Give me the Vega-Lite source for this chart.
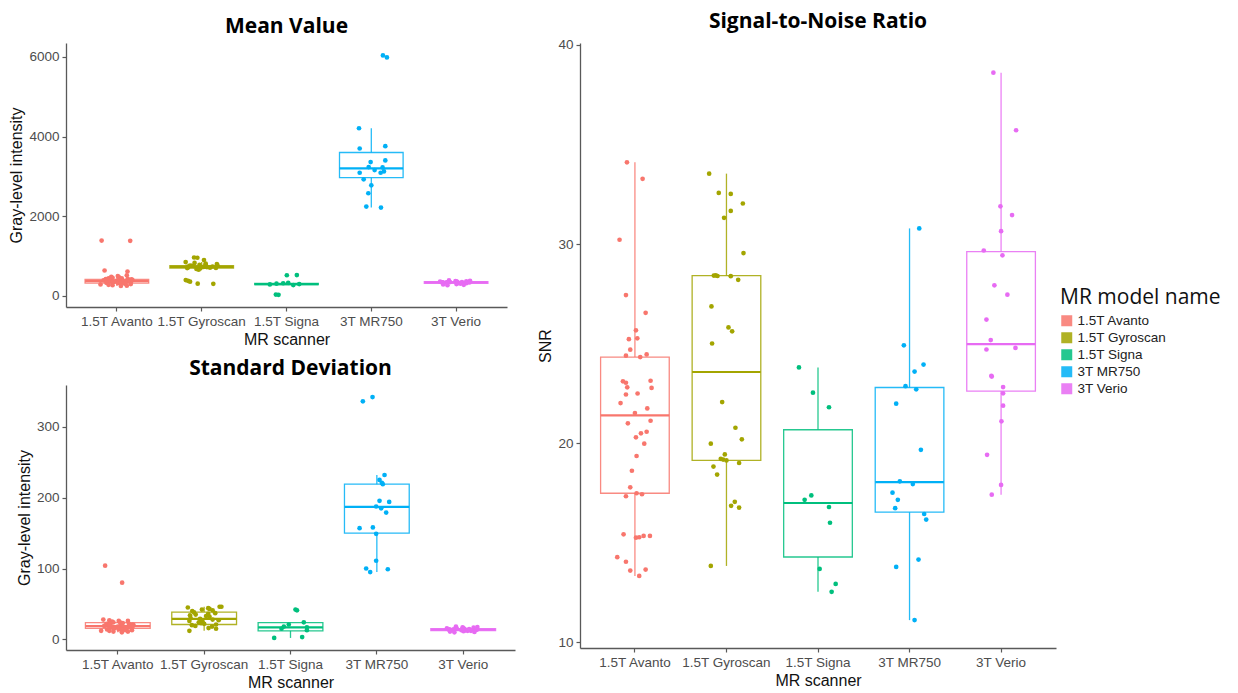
{
 "$schema": "https://vega.github.io/schema/vega-lite/v6.json",
 "padding": {"left": 8, "top": 10, "right": 5, "bottom": 5},
 "background": "white",
 "config": {
   "view": {"stroke": null},
   "font": "Liberation Sans",
   "axis": {"grid": false, "domainColor": "#595959", "domainWidth": 1.3, "tickColor": "#595959", "tickWidth": 1.2, "tickSize": 4, "labelFont": "Liberation Sans", "labelFontSize": 13.5, "labelColor": "#4d4d4d", "titleFont": "Liberation Sans", "titleFontSize": 16, "titleFontWeight": "normal", "titleColor": "#111111", "labelPadding": 3, "titlePadding": 4},
   "axisX": {"labelAngle": 0},
   "axisY": {"format": "d"},
   "title": {"font": "Open Sans", "fontSize": 21, "fontWeight": "bold", "color": "#000000", "anchor": "middle", "frame": "group", "offset": 6},
   "legend": {"orient": "none", "legendX": 994, "legendY": 244, "titleFont": "Open Sans", "titleFontSize": 21, "titleFontWeight": "normal", "titleColor": "#111111", "labelFont": "Liberation Sans", "labelFontSize": 13.5, "labelColor": "#222222", "symbolType": "square", "symbolSize": 90, "rowPadding": 1, "titlePadding": 6}
 },
 "datasets": {
  "meanBox": [
   {"scanner": "1.5T Avanto", "lo": 250, "q1": 325, "med": 374, "q3": 415, "hi": 520},
   {"scanner": "1.5T Gyroscan", "lo": 660, "q1": 700, "med": 730, "q3": 760, "hi": 850},
   {"scanner": "1.5T Signa", "lo": 275, "q1": 285, "med": 300, "q3": 318, "hi": 330},
   {"scanner": "3T MR750", "lo": 2219, "q1": 2968, "med": 3200, "q3": 3599, "hi": 4207},
   {"scanner": "3T Verio", "lo": 270, "q1": 315, "med": 341, "q3": 362, "hi": 390}
  ],
  "sdBox": [
   {"scanner": "1.5T Avanto", "lo": 10, "q1": 15.5, "med": 18.8, "q3": 23.5, "hi": 28},
   {"scanner": "1.5T Gyroscan", "lo": 12, "q1": 21, "med": 29, "q3": 38.5, "hi": 46},
   {"scanner": "1.5T Signa", "lo": 2, "q1": 12, "med": 17, "q3": 23.5, "hi": 24},
   {"scanner": "3T MR750", "lo": 95, "q1": 150, "med": 187, "q3": 219, "hi": 232},
   {"scanner": "3T Verio", "lo": 10, "q1": 12.3, "med": 13.8, "q3": 15.3, "hi": 18}
  ],
  "snrBox": [
   {"scanner": "1.5T Avanto", "lo": 13.34, "q1": 17.49, "med": 21.4, "q3": 24.33, "hi": 34.11},
   {"scanner": "1.5T Gyroscan", "lo": 13.84, "q1": 19.14, "med": 23.58, "q3": 28.42, "hi": 33.54},
   {"scanner": "1.5T Signa", "lo": 12.54, "q1": 14.29, "med": 17.0, "q3": 20.68, "hi": 23.81},
   {"scanner": "3T MR750", "lo": 11.12, "q1": 16.54, "med": 18.05, "q3": 22.8, "hi": 30.79},
   {"scanner": "3T Verio", "lo": 17.42, "q1": 22.62, "med": 24.98, "q3": 29.62, "hi": 38.61}
  ],
  "mean": [
   {"scanner": "1.5T Avanto", "value": 1389, "jitter": -0.18},
   {"scanner": "1.5T Avanto", "value": 1385, "jitter": 0.157},
   {"scanner": "1.5T Avanto", "value": 640, "jitter": -0.145},
   {"scanner": "1.5T Avanto", "value": 615, "jitter": 0.125},
   {"scanner": "1.5T Avanto", "value": 520, "jitter": 0.117},
   {"scanner": "1.5T Avanto", "value": 500, "jitter": 0.011},
   {"scanner": "1.5T Avanto", "value": 480, "jitter": -0.066},
   {"scanner": "1.5T Avanto", "value": 470, "jitter": 0.026},
   {"scanner": "1.5T Avanto", "value": 455, "jitter": -0.051},
   {"scanner": "1.5T Avanto", "value": 445, "jitter": -0.098},
   {"scanner": "1.5T Avanto", "value": 440, "jitter": 0.058},
   {"scanner": "1.5T Avanto", "value": 430, "jitter": 0.128},
   {"scanner": "1.5T Avanto", "value": 425, "jitter": -0.131},
   {"scanner": "1.5T Avanto", "value": 420, "jitter": -0.098},
   {"scanner": "1.5T Avanto", "value": 415, "jitter": 0.171},
   {"scanner": "1.5T Avanto", "value": 410, "jitter": -0.084},
   {"scanner": "1.5T Avanto", "value": 405, "jitter": 0.182},
   {"scanner": "1.5T Avanto", "value": 400, "jitter": -0.098},
   {"scanner": "1.5T Avanto", "value": 395, "jitter": 0.029},
   {"scanner": "1.5T Avanto", "value": 390, "jitter": -0.157},
   {"scanner": "1.5T Avanto", "value": 385, "jitter": 0.135},
   {"scanner": "1.5T Avanto", "value": 380, "jitter": 0.0},
   {"scanner": "1.5T Avanto", "value": 378, "jitter": 0.171},
   {"scanner": "1.5T Avanto", "value": 376, "jitter": -0.077},
   {"scanner": "1.5T Avanto", "value": 374, "jitter": 0.066},
   {"scanner": "1.5T Avanto", "value": 372, "jitter": 0.128},
   {"scanner": "1.5T Avanto", "value": 370, "jitter": 0.011},
   {"scanner": "1.5T Avanto", "value": 365, "jitter": 0.102},
   {"scanner": "1.5T Avanto", "value": 360, "jitter": 0.018},
   {"scanner": "1.5T Avanto", "value": 355, "jitter": -0.033},
   {"scanner": "1.5T Avanto", "value": 350, "jitter": -0.051},
   {"scanner": "1.5T Avanto", "value": 345, "jitter": -0.098},
   {"scanner": "1.5T Avanto", "value": 340, "jitter": 0.018},
   {"scanner": "1.5T Avanto", "value": 335, "jitter": 0.077},
   {"scanner": "1.5T Avanto", "value": 330, "jitter": -0.124},
   {"scanner": "1.5T Avanto", "value": 325, "jitter": 0.011},
   {"scanner": "1.5T Avanto", "value": 320, "jitter": 0.047},
   {"scanner": "1.5T Avanto", "value": 310, "jitter": 0.095},
   {"scanner": "1.5T Avanto", "value": 300, "jitter": 0.164},
   {"scanner": "1.5T Avanto", "value": 290, "jitter": -0.193},
   {"scanner": "1.5T Avanto", "value": 280, "jitter": -0.098},
   {"scanner": "1.5T Avanto", "value": 270, "jitter": -0.051},
   {"scanner": "1.5T Avanto", "value": 260, "jitter": 0.117},
   {"scanner": "1.5T Avanto", "value": 250, "jitter": 0.047},
   {"scanner": "1.5T Gyroscan", "value": 965, "jitter": -0.09},
   {"scanner": "1.5T Gyroscan", "value": 960, "jitter": -0.051},
   {"scanner": "1.5T Gyroscan", "value": 900, "jitter": 0.027},
   {"scanner": "1.5T Gyroscan", "value": 850, "jitter": -0.189},
   {"scanner": "1.5T Gyroscan", "value": 830, "jitter": -0.084},
   {"scanner": "1.5T Gyroscan", "value": 810, "jitter": 0.047},
   {"scanner": "1.5T Gyroscan", "value": 800, "jitter": 0.179},
   {"scanner": "1.5T Gyroscan", "value": 790, "jitter": 0.047},
   {"scanner": "1.5T Gyroscan", "value": 780, "jitter": -0.026},
   {"scanner": "1.5T Gyroscan", "value": 770, "jitter": 0.186},
   {"scanner": "1.5T Gyroscan", "value": 760, "jitter": -0.138},
   {"scanner": "1.5T Gyroscan", "value": 755, "jitter": -0.117},
   {"scanner": "1.5T Gyroscan", "value": 750, "jitter": -0.098},
   {"scanner": "1.5T Gyroscan", "value": 745, "jitter": 0.047},
   {"scanner": "1.5T Gyroscan", "value": 740, "jitter": 0.128},
   {"scanner": "1.5T Gyroscan", "value": 735, "jitter": -0.164},
   {"scanner": "1.5T Gyroscan", "value": 730, "jitter": 0.022},
   {"scanner": "1.5T Gyroscan", "value": 725, "jitter": 0.062},
   {"scanner": "1.5T Gyroscan", "value": 720, "jitter": -0.157},
   {"scanner": "1.5T Gyroscan", "value": 715, "jitter": -0.047},
   {"scanner": "1.5T Gyroscan", "value": 710, "jitter": 0.098},
   {"scanner": "1.5T Gyroscan", "value": 705, "jitter": 0.168},
   {"scanner": "1.5T Gyroscan", "value": 700, "jitter": -0.171},
   {"scanner": "1.5T Gyroscan", "value": 690, "jitter": -0.018},
   {"scanner": "1.5T Gyroscan", "value": 680, "jitter": -0.062},
   {"scanner": "1.5T Gyroscan", "value": 660, "jitter": -0.036},
   {"scanner": "1.5T Gyroscan", "value": 400, "jitter": -0.188},
   {"scanner": "1.5T Gyroscan", "value": 380, "jitter": -0.161},
   {"scanner": "1.5T Gyroscan", "value": 360, "jitter": -0.137},
   {"scanner": "1.5T Gyroscan", "value": 310, "jitter": -0.047},
   {"scanner": "1.5T Gyroscan", "value": 305, "jitter": 0.137},
   {"scanner": "1.5T Signa", "value": 525, "jitter": 0.122},
   {"scanner": "1.5T Signa", "value": 520, "jitter": 0.004},
   {"scanner": "1.5T Signa", "value": 330, "jitter": 0.02},
   {"scanner": "1.5T Signa", "value": 320, "jitter": -0.039},
   {"scanner": "1.5T Signa", "value": 310, "jitter": -0.118},
   {"scanner": "1.5T Signa", "value": 300, "jitter": 0.15},
   {"scanner": "1.5T Signa", "value": 290, "jitter": -0.196},
   {"scanner": "1.5T Signa", "value": 275, "jitter": 0.08},
   {"scanner": "1.5T Signa", "value": 35, "jitter": -0.125},
   {"scanner": "1.5T Signa", "value": 30, "jitter": -0.094},
   {"scanner": "3T MR750", "value": 6035, "jitter": 0.137},
   {"scanner": "3T MR750", "value": 5985, "jitter": 0.184},
   {"scanner": "3T MR750", "value": 4207, "jitter": -0.145},
   {"scanner": "3T MR750", "value": 3757, "jitter": 0.165},
   {"scanner": "3T MR750", "value": 3699, "jitter": -0.137},
   {"scanner": "3T MR750", "value": 3400, "jitter": 0.165},
   {"scanner": "3T MR750", "value": 3358, "jitter": -0.008},
   {"scanner": "3T MR750", "value": 3234, "jitter": -0.031},
   {"scanner": "3T MR750", "value": 3225, "jitter": 0.133},
   {"scanner": "3T MR750", "value": 3159, "jitter": 0.039},
   {"scanner": "3T MR750", "value": 3125, "jitter": 0.149},
   {"scanner": "3T MR750", "value": 3092, "jitter": 0.11},
   {"scanner": "3T MR750", "value": 3092, "jitter": -0.137},
   {"scanner": "3T MR750", "value": 2926, "jitter": -0.09},
   {"scanner": "3T MR750", "value": 2776, "jitter": 0.0},
   {"scanner": "3T MR750", "value": 2577, "jitter": -0.035},
   {"scanner": "3T MR750", "value": 2244, "jitter": -0.059},
   {"scanner": "3T MR750", "value": 2219, "jitter": 0.114},
   {"scanner": "3T Verio", "value": 390, "jitter": -0.084},
   {"scanner": "3T Verio", "value": 380, "jitter": 0.164},
   {"scanner": "3T Verio", "value": 375, "jitter": -0.007},
   {"scanner": "3T Verio", "value": 370, "jitter": 0.12},
   {"scanner": "3T Verio", "value": 365, "jitter": 0.0},
   {"scanner": "3T Verio", "value": 360, "jitter": -0.189},
   {"scanner": "3T Verio", "value": 355, "jitter": 0.015},
   {"scanner": "3T Verio", "value": 350, "jitter": -0.073},
   {"scanner": "3T Verio", "value": 348, "jitter": 0.069},
   {"scanner": "3T Verio", "value": 345, "jitter": -0.16},
   {"scanner": "3T Verio", "value": 342, "jitter": -0.113},
   {"scanner": "3T Verio", "value": 340, "jitter": -0.16},
   {"scanner": "3T Verio", "value": 338, "jitter": 0.157},
   {"scanner": "3T Verio", "value": 335, "jitter": -0.106},
   {"scanner": "3T Verio", "value": 330, "jitter": -0.102},
   {"scanner": "3T Verio", "value": 325, "jitter": 0.022},
   {"scanner": "3T Verio", "value": 320, "jitter": 0.122},
   {"scanner": "3T Verio", "value": 310, "jitter": 0.052},
   {"scanner": "3T Verio", "value": 300, "jitter": 0.004},
   {"scanner": "3T Verio", "value": 290, "jitter": -0.153},
   {"scanner": "3T Verio", "value": 280, "jitter": 0.09},
   {"scanner": "3T Verio", "value": 270, "jitter": -0.102}
  ],
  "sd": [
   {"scanner": "1.5T Avanto", "value": 104, "jitter": -0.147},
   {"scanner": "1.5T Avanto", "value": 80, "jitter": 0.05},
   {"scanner": "1.5T Avanto", "value": 28, "jitter": -0.168},
   {"scanner": "1.5T Avanto", "value": 27, "jitter": -0.098},
   {"scanner": "1.5T Avanto", "value": 26, "jitter": 0.117},
   {"scanner": "1.5T Avanto", "value": 26, "jitter": 0.011},
   {"scanner": "1.5T Avanto", "value": 25, "jitter": -0.066},
   {"scanner": "1.5T Avanto", "value": 24, "jitter": 0.026},
   {"scanner": "1.5T Avanto", "value": 24, "jitter": -0.051},
   {"scanner": "1.5T Avanto", "value": 23, "jitter": -0.098},
   {"scanner": "1.5T Avanto", "value": 23, "jitter": 0.058},
   {"scanner": "1.5T Avanto", "value": 22, "jitter": 0.128},
   {"scanner": "1.5T Avanto", "value": 22, "jitter": -0.131},
   {"scanner": "1.5T Avanto", "value": 21, "jitter": -0.098},
   {"scanner": "1.5T Avanto", "value": 21, "jitter": 0.171},
   {"scanner": "1.5T Avanto", "value": 20, "jitter": -0.084},
   {"scanner": "1.5T Avanto", "value": 20, "jitter": 0.182},
   {"scanner": "1.5T Avanto", "value": 20, "jitter": -0.098},
   {"scanner": "1.5T Avanto", "value": 19, "jitter": 0.029},
   {"scanner": "1.5T Avanto", "value": 19, "jitter": -0.157},
   {"scanner": "1.5T Avanto", "value": 19, "jitter": 0.135},
   {"scanner": "1.5T Avanto", "value": 18, "jitter": 0.0},
   {"scanner": "1.5T Avanto", "value": 18, "jitter": 0.171},
   {"scanner": "1.5T Avanto", "value": 18, "jitter": -0.077},
   {"scanner": "1.5T Avanto", "value": 17, "jitter": 0.066},
   {"scanner": "1.5T Avanto", "value": 17, "jitter": 0.128},
   {"scanner": "1.5T Avanto", "value": 17, "jitter": 0.011},
   {"scanner": "1.5T Avanto", "value": 16, "jitter": 0.102},
   {"scanner": "1.5T Avanto", "value": 16, "jitter": 0.018},
   {"scanner": "1.5T Avanto", "value": 16, "jitter": -0.033},
   {"scanner": "1.5T Avanto", "value": 15, "jitter": -0.051},
   {"scanner": "1.5T Avanto", "value": 15, "jitter": -0.098},
   {"scanner": "1.5T Avanto", "value": 15, "jitter": 0.018},
   {"scanner": "1.5T Avanto", "value": 14, "jitter": 0.077},
   {"scanner": "1.5T Avanto", "value": 14, "jitter": -0.124},
   {"scanner": "1.5T Avanto", "value": 14, "jitter": 0.011},
   {"scanner": "1.5T Avanto", "value": 13, "jitter": 0.047},
   {"scanner": "1.5T Avanto", "value": 13, "jitter": 0.095},
   {"scanner": "1.5T Avanto", "value": 13, "jitter": 0.164},
   {"scanner": "1.5T Avanto", "value": 12, "jitter": -0.193},
   {"scanner": "1.5T Avanto", "value": 12, "jitter": -0.098},
   {"scanner": "1.5T Avanto", "value": 11, "jitter": -0.051},
   {"scanner": "1.5T Avanto", "value": 11, "jitter": 0.117},
   {"scanner": "1.5T Avanto", "value": 10, "jitter": 0.047},
   {"scanner": "1.5T Gyroscan", "value": 46, "jitter": 0.179},
   {"scanner": "1.5T Gyroscan", "value": 46, "jitter": 0.2},
   {"scanner": "1.5T Gyroscan", "value": 45, "jitter": -0.189},
   {"scanner": "1.5T Gyroscan", "value": 44, "jitter": 0.047},
   {"scanner": "1.5T Gyroscan", "value": 43, "jitter": 0.062},
   {"scanner": "1.5T Gyroscan", "value": 42, "jitter": -0.026},
   {"scanner": "1.5T Gyroscan", "value": 41, "jitter": 0.098},
   {"scanner": "1.5T Gyroscan", "value": 40, "jitter": -0.138},
   {"scanner": "1.5T Gyroscan", "value": 38, "jitter": -0.117},
   {"scanner": "1.5T Gyroscan", "value": 37, "jitter": 0.128},
   {"scanner": "1.5T Gyroscan", "value": 36, "jitter": 0.047},
   {"scanner": "1.5T Gyroscan", "value": 35, "jitter": -0.098},
   {"scanner": "1.5T Gyroscan", "value": 34, "jitter": -0.164},
   {"scanner": "1.5T Gyroscan", "value": 33, "jitter": 0.022},
   {"scanner": "1.5T Gyroscan", "value": 32, "jitter": 0.062},
   {"scanner": "1.5T Gyroscan", "value": 30, "jitter": -0.157},
   {"scanner": "1.5T Gyroscan", "value": 29, "jitter": -0.047},
   {"scanner": "1.5T Gyroscan", "value": 28, "jitter": 0.098},
   {"scanner": "1.5T Gyroscan", "value": 27, "jitter": 0.168},
   {"scanner": "1.5T Gyroscan", "value": 26, "jitter": -0.171},
   {"scanner": "1.5T Gyroscan", "value": 25, "jitter": -0.018},
   {"scanner": "1.5T Gyroscan", "value": 24, "jitter": -0.062},
   {"scanner": "1.5T Gyroscan", "value": 23, "jitter": -0.036},
   {"scanner": "1.5T Gyroscan", "value": 22, "jitter": 0.0},
   {"scanner": "1.5T Gyroscan", "value": 21, "jitter": 0.138},
   {"scanner": "1.5T Gyroscan", "value": 20, "jitter": -0.142},
   {"scanner": "1.5T Gyroscan", "value": 19, "jitter": -0.102},
   {"scanner": "1.5T Gyroscan", "value": 18, "jitter": 0.091},
   {"scanner": "1.5T Gyroscan", "value": 16, "jitter": 0.051},
   {"scanner": "1.5T Gyroscan", "value": 15, "jitter": 0.138},
   {"scanner": "1.5T Gyroscan", "value": 12, "jitter": -0.171},
   {"scanner": "1.5T Signa", "value": 42, "jitter": 0.058},
   {"scanner": "1.5T Signa", "value": 41, "jitter": 0.075},
   {"scanner": "1.5T Signa", "value": 24, "jitter": 0.154},
   {"scanner": "1.5T Signa", "value": 21, "jitter": -0.02},
   {"scanner": "1.5T Signa", "value": 18, "jitter": -0.077},
   {"scanner": "1.5T Signa", "value": 17, "jitter": 0.19},
   {"scanner": "1.5T Signa", "value": 15, "jitter": -0.104},
   {"scanner": "1.5T Signa", "value": 13, "jitter": 0.19},
   {"scanner": "1.5T Signa", "value": 3.3, "jitter": 0.135},
   {"scanner": "1.5T Signa", "value": 2, "jitter": -0.189},
   {"scanner": "3T MR750", "value": 342, "jitter": -0.05},
   {"scanner": "3T MR750", "value": 336, "jitter": -0.162},
   {"scanner": "3T MR750", "value": 232, "jitter": 0.089},
   {"scanner": "3T MR750", "value": 225, "jitter": 0.031},
   {"scanner": "3T MR750", "value": 221, "jitter": 0.058},
   {"scanner": "3T MR750", "value": 219, "jitter": 0.069},
   {"scanner": "3T MR750", "value": 195.5, "jitter": 0.031},
   {"scanner": "3T MR750", "value": 194, "jitter": 0.143},
   {"scanner": "3T MR750", "value": 187.5, "jitter": -0.008},
   {"scanner": "3T MR750", "value": 185, "jitter": 0.05},
   {"scanner": "3T MR750", "value": 179, "jitter": 0.108},
   {"scanner": "3T MR750", "value": 157, "jitter": -0.2},
   {"scanner": "3T MR750", "value": 158, "jitter": -0.046},
   {"scanner": "3T MR750", "value": 149, "jitter": -0.008},
   {"scanner": "3T MR750", "value": 111, "jitter": -0.008},
   {"scanner": "3T MR750", "value": 100, "jitter": -0.124},
   {"scanner": "3T MR750", "value": 95, "jitter": -0.077},
   {"scanner": "3T MR750", "value": 99, "jitter": 0.127},
   {"scanner": "3T Verio", "value": 18, "jitter": -0.084},
   {"scanner": "3T Verio", "value": 17.5, "jitter": 0.164},
   {"scanner": "3T Verio", "value": 17, "jitter": -0.007},
   {"scanner": "3T Verio", "value": 16.5, "jitter": 0.12},
   {"scanner": "3T Verio", "value": 16, "jitter": 0.0},
   {"scanner": "3T Verio", "value": 15.5, "jitter": -0.189},
   {"scanner": "3T Verio", "value": 15, "jitter": 0.015},
   {"scanner": "3T Verio", "value": 15, "jitter": -0.073},
   {"scanner": "3T Verio", "value": 14.5, "jitter": 0.069},
   {"scanner": "3T Verio", "value": 14, "jitter": -0.16},
   {"scanner": "3T Verio", "value": 14, "jitter": -0.113},
   {"scanner": "3T Verio", "value": 13.5, "jitter": -0.16},
   {"scanner": "3T Verio", "value": 13.5, "jitter": 0.157},
   {"scanner": "3T Verio", "value": 13, "jitter": -0.106},
   {"scanner": "3T Verio", "value": 13, "jitter": -0.02},
   {"scanner": "3T Verio", "value": 12.5, "jitter": 0.022},
   {"scanner": "3T Verio", "value": 12, "jitter": 0.09},
   {"scanner": "3T Verio", "value": 12, "jitter": 0.052},
   {"scanner": "3T Verio", "value": 11.5, "jitter": 0.004},
   {"scanner": "3T Verio", "value": 11, "jitter": -0.153},
   {"scanner": "3T Verio", "value": 10.5, "jitter": 0.13},
   {"scanner": "3T Verio", "value": 10, "jitter": -0.102}
  ],
  "snr": [
   {"scanner": "1.5T Avanto", "value": 34.11, "jitter": -0.087},
   {"scanner": "1.5T Avanto", "value": 33.28, "jitter": 0.084},
   {"scanner": "1.5T Avanto", "value": 30.22, "jitter": -0.168},
   {"scanner": "1.5T Avanto", "value": 27.44, "jitter": -0.098},
   {"scanner": "1.5T Avanto", "value": 26.55, "jitter": 0.117},
   {"scanner": "1.5T Avanto", "value": 25.67, "jitter": 0.011},
   {"scanner": "1.5T Avanto", "value": 25.23, "jitter": -0.066},
   {"scanner": "1.5T Avanto", "value": 25.27, "jitter": 0.026},
   {"scanner": "1.5T Avanto", "value": 24.7, "jitter": -0.051},
   {"scanner": "1.5T Avanto", "value": 24.4, "jitter": -0.098},
   {"scanner": "1.5T Avanto", "value": 24.33, "jitter": 0.058},
   {"scanner": "1.5T Avanto", "value": 24.46, "jitter": 0.128},
   {"scanner": "1.5T Avanto", "value": 23.11, "jitter": -0.131},
   {"scanner": "1.5T Avanto", "value": 23.04, "jitter": -0.098},
   {"scanner": "1.5T Avanto", "value": 23.14, "jitter": 0.171},
   {"scanner": "1.5T Avanto", "value": 22.81, "jitter": -0.084},
   {"scanner": "1.5T Avanto", "value": 22.78, "jitter": 0.182},
   {"scanner": "1.5T Avanto", "value": 22.45, "jitter": -0.098},
   {"scanner": "1.5T Avanto", "value": 22.5, "jitter": 0.029},
   {"scanner": "1.5T Avanto", "value": 22.02, "jitter": -0.157},
   {"scanner": "1.5T Avanto", "value": 21.75, "jitter": 0.135},
   {"scanner": "1.5T Avanto", "value": 21.52, "jitter": 0.0},
   {"scanner": "1.5T Avanto", "value": 21.13, "jitter": 0.171},
   {"scanner": "1.5T Avanto", "value": 21.0, "jitter": -0.077},
   {"scanner": "1.5T Avanto", "value": 20.5, "jitter": 0.066},
   {"scanner": "1.5T Avanto", "value": 20.58, "jitter": 0.128},
   {"scanner": "1.5T Avanto", "value": 20.3, "jitter": 0.011},
   {"scanner": "1.5T Avanto", "value": 19.98, "jitter": 0.102},
   {"scanner": "1.5T Avanto", "value": 19.36, "jitter": 0.018},
   {"scanner": "1.5T Avanto", "value": 18.62, "jitter": -0.033},
   {"scanner": "1.5T Avanto", "value": 17.79, "jitter": -0.051},
   {"scanner": "1.5T Avanto", "value": 17.34, "jitter": -0.098},
   {"scanner": "1.5T Avanto", "value": 17.49, "jitter": 0.018},
   {"scanner": "1.5T Avanto", "value": 17.44, "jitter": 0.077},
   {"scanner": "1.5T Avanto", "value": 15.43, "jitter": -0.124},
   {"scanner": "1.5T Avanto", "value": 15.26, "jitter": 0.011},
   {"scanner": "1.5T Avanto", "value": 15.28, "jitter": 0.047},
   {"scanner": "1.5T Avanto", "value": 15.35, "jitter": 0.095},
   {"scanner": "1.5T Avanto", "value": 15.35, "jitter": 0.164},
   {"scanner": "1.5T Avanto", "value": 14.28, "jitter": -0.193},
   {"scanner": "1.5T Avanto", "value": 14.05, "jitter": -0.098},
   {"scanner": "1.5T Avanto", "value": 13.61, "jitter": -0.051},
   {"scanner": "1.5T Avanto", "value": 13.66, "jitter": 0.117},
   {"scanner": "1.5T Avanto", "value": 13.34, "jitter": 0.047},
   {"scanner": "1.5T Gyroscan", "value": 33.54, "jitter": -0.189},
   {"scanner": "1.5T Gyroscan", "value": 32.57, "jitter": -0.084},
   {"scanner": "1.5T Gyroscan", "value": 32.52, "jitter": 0.047},
   {"scanner": "1.5T Gyroscan", "value": 32.04, "jitter": 0.179},
   {"scanner": "1.5T Gyroscan", "value": 31.67, "jitter": 0.047},
   {"scanner": "1.5T Gyroscan", "value": 31.32, "jitter": -0.026},
   {"scanner": "1.5T Gyroscan", "value": 29.55, "jitter": 0.186},
   {"scanner": "1.5T Gyroscan", "value": 28.42, "jitter": -0.138},
   {"scanner": "1.5T Gyroscan", "value": 28.43, "jitter": -0.117},
   {"scanner": "1.5T Gyroscan", "value": 28.4, "jitter": -0.098},
   {"scanner": "1.5T Gyroscan", "value": 28.39, "jitter": 0.047},
   {"scanner": "1.5T Gyroscan", "value": 28.21, "jitter": 0.128},
   {"scanner": "1.5T Gyroscan", "value": 26.87, "jitter": -0.164},
   {"scanner": "1.5T Gyroscan", "value": 25.82, "jitter": 0.022},
   {"scanner": "1.5T Gyroscan", "value": 25.62, "jitter": 0.062},
   {"scanner": "1.5T Gyroscan", "value": 25.01, "jitter": -0.157},
   {"scanner": "1.5T Gyroscan", "value": 22.07, "jitter": -0.047},
   {"scanner": "1.5T Gyroscan", "value": 20.78, "jitter": 0.098},
   {"scanner": "1.5T Gyroscan", "value": 20.2, "jitter": 0.168},
   {"scanner": "1.5T Gyroscan", "value": 19.98, "jitter": -0.171},
   {"scanner": "1.5T Gyroscan", "value": 19.44, "jitter": -0.018},
   {"scanner": "1.5T Gyroscan", "value": 19.22, "jitter": -0.062},
   {"scanner": "1.5T Gyroscan", "value": 19.18, "jitter": -0.036},
   {"scanner": "1.5T Gyroscan", "value": 19.14, "jitter": 0.0},
   {"scanner": "1.5T Gyroscan", "value": 19.01, "jitter": 0.138},
   {"scanner": "1.5T Gyroscan", "value": 18.83, "jitter": -0.142},
   {"scanner": "1.5T Gyroscan", "value": 18.43, "jitter": -0.102},
   {"scanner": "1.5T Gyroscan", "value": 17.06, "jitter": 0.091},
   {"scanner": "1.5T Gyroscan", "value": 16.86, "jitter": 0.051},
   {"scanner": "1.5T Gyroscan", "value": 16.77, "jitter": 0.138},
   {"scanner": "1.5T Gyroscan", "value": 13.84, "jitter": -0.171},
   {"scanner": "1.5T Signa", "value": 23.81, "jitter": -0.208},
   {"scanner": "1.5T Signa", "value": 22.54, "jitter": -0.055},
   {"scanner": "1.5T Signa", "value": 21.81, "jitter": 0.12},
   {"scanner": "1.5T Signa", "value": 17.38, "jitter": -0.073},
   {"scanner": "1.5T Signa", "value": 17.16, "jitter": -0.146},
   {"scanner": "1.5T Signa", "value": 16.8, "jitter": 0.12},
   {"scanner": "1.5T Signa", "value": 16.01, "jitter": 0.131},
   {"scanner": "1.5T Signa", "value": 13.69, "jitter": 0.018},
   {"scanner": "1.5T Signa", "value": 12.94, "jitter": 0.193},
   {"scanner": "1.5T Signa", "value": 12.54, "jitter": 0.149},
   {"scanner": "3T MR750", "value": 30.79, "jitter": 0.106},
   {"scanner": "3T MR750", "value": 24.92, "jitter": -0.062},
   {"scanner": "3T MR750", "value": 23.95, "jitter": 0.153},
   {"scanner": "3T MR750", "value": 23.6, "jitter": 0.055},
   {"scanner": "3T MR750", "value": 22.87, "jitter": -0.044},
   {"scanner": "3T MR750", "value": 22.71, "jitter": 0.073},
   {"scanner": "3T MR750", "value": 21.99, "jitter": -0.146},
   {"scanner": "3T MR750", "value": 19.67, "jitter": 0.124},
   {"scanner": "3T MR750", "value": 18.09, "jitter": -0.106},
   {"scanner": "3T MR750", "value": 17.95, "jitter": 0.036},
   {"scanner": "3T MR750", "value": 17.52, "jitter": -0.186},
   {"scanner": "3T MR750", "value": 17.16, "jitter": -0.128},
   {"scanner": "3T MR750", "value": 16.74, "jitter": -0.157},
   {"scanner": "3T MR750", "value": 16.45, "jitter": 0.16},
   {"scanner": "3T MR750", "value": 16.17, "jitter": 0.182},
   {"scanner": "3T MR750", "value": 14.16, "jitter": 0.098},
   {"scanner": "3T MR750", "value": 13.79, "jitter": -0.146},
   {"scanner": "3T MR750", "value": 11.12, "jitter": 0.055},
   {"scanner": "3T Verio", "value": 38.61, "jitter": -0.084},
   {"scanner": "3T Verio", "value": 35.72, "jitter": 0.164},
   {"scanner": "3T Verio", "value": 31.9, "jitter": -0.007},
   {"scanner": "3T Verio", "value": 31.46, "jitter": 0.12},
   {"scanner": "3T Verio", "value": 30.65, "jitter": 0.0},
   {"scanner": "3T Verio", "value": 29.68, "jitter": -0.189},
   {"scanner": "3T Verio", "value": 29.44, "jitter": 0.015},
   {"scanner": "3T Verio", "value": 27.93, "jitter": -0.073},
   {"scanner": "3T Verio", "value": 27.46, "jitter": 0.069},
   {"scanner": "3T Verio", "value": 26.21, "jitter": -0.16},
   {"scanner": "3T Verio", "value": 25.18, "jitter": -0.113},
   {"scanner": "3T Verio", "value": 24.71, "jitter": -0.16},
   {"scanner": "3T Verio", "value": 24.79, "jitter": 0.157},
   {"scanner": "3T Verio", "value": 23.39, "jitter": -0.106},
   {"scanner": "3T Verio", "value": 23.35, "jitter": -0.102},
   {"scanner": "3T Verio", "value": 22.82, "jitter": 0.022},
   {"scanner": "3T Verio", "value": 22.51, "jitter": 0.022},
   {"scanner": "3T Verio", "value": 21.89, "jitter": 0.022},
   {"scanner": "3T Verio", "value": 21.1, "jitter": 0.004},
   {"scanner": "3T Verio", "value": 19.42, "jitter": -0.153},
   {"scanner": "3T Verio", "value": 17.91, "jitter": 0.0},
   {"scanner": "3T Verio", "value": 17.42, "jitter": -0.102}
  ]
 },
 "spacing": 22,
 "hconcat": [
  {
   "spacing": 10,
   "vconcat": [
    {
     "title": "Mean Value",
     "width": 441, "height": 264,
     "resolve": {"scale": {"xOffset": "independent"}},
     "encoding": {
      "x": {"field": "scanner", "type": "nominal", "title": "MR scanner", "scale": {"domain": ["1.5T Avanto", "1.5T Gyroscan", "1.5T Signa", "3T MR750", "3T Verio"], "paddingInner": 0.25, "paddingOuter": 0.225}},
      "color": {"field": "scanner", "type": "nominal", "title": "MR model name", "scale": {"domain": ["1.5T Avanto", "1.5T Gyroscan", "1.5T Signa", "3T MR750", "3T Verio"], "range": ["#F8766D", "#A3A500", "#00BF7D", "#00B0F6", "#E76BF3"]}}
     },
     "layer": [
      {"data": {"name": "meanBox"}, "mark": {"type": "rule", "strokeWidth": 1.3, "opacity": 0.85},
       "encoding": {"y": {"field": "lo", "type": "quantitative", "title": "Gray-level intensity", "scale": {"domain": [-276, 6346], "nice": false, "zero": false}, "axis": {"values": [0, 2000, 4000, 6000]}}, "y2": {"field": "q1"}}},
      {"data": {"name": "meanBox"}, "mark": {"type": "rule", "strokeWidth": 1.3, "opacity": 0.85},
       "encoding": {"y": {"field": "q3", "type": "quantitative", "title": "Gray-level intensity"}, "y2": {"field": "hi"}}},
      {"data": {"name": "meanBox"}, "mark": {"type": "bar", "filled": false, "strokeWidth": 1.3, "opacity": 0.85},
       "encoding": {"y": {"field": "q1", "type": "quantitative", "title": "Gray-level intensity"}, "y2": {"field": "q3"}}},
      {"data": {"name": "meanBox"}, "mark": {"type": "tick", "thickness": 2.2, "size": 63.6, "opacity": 1},
       "encoding": {"y": {"field": "med", "type": "quantitative", "title": "Gray-level intensity"}}},
      {"data": {"name": "mean"}, "mark": {"type": "circle", "size": 22, "opacity": 1},
       "encoding": {"y": {"field": "value", "type": "quantitative", "title": "Gray-level intensity"}, "xOffset": {"field": "jitter", "type": "quantitative", "scale": {"domain": [-0.375, 0.375]}}}}
     ]
    },
    {
     "title": "Standard Deviation",
     "width": 449, "height": 265,
     "resolve": {"scale": {"xOffset": "independent"}},
     "encoding": {
      "x": {"field": "scanner", "type": "nominal", "title": "MR scanner", "scale": {"domain": ["1.5T Avanto", "1.5T Gyroscan", "1.5T Signa", "3T MR750", "3T Verio"], "paddingInner": 0.25, "paddingOuter": 0.225}},
      "color": {"field": "scanner", "type": "nominal", "title": "MR model name", "scale": {"domain": ["1.5T Avanto", "1.5T Gyroscan", "1.5T Signa", "3T MR750", "3T Verio"], "range": ["#F8766D", "#A3A500", "#00BF7D", "#00B0F6", "#E76BF3"]}}
     },
     "layer": [
      {"data": {"name": "sdBox"}, "mark": {"type": "rule", "strokeWidth": 1.3, "opacity": 0.85},
       "encoding": {"y": {"field": "lo", "type": "quantitative", "title": "Gray-level intensity", "scale": {"domain": [-15, 359], "nice": false, "zero": false}, "axis": {"values": [0, 100, 200, 300]}}, "y2": {"field": "q1"}}},
      {"data": {"name": "sdBox"}, "mark": {"type": "rule", "strokeWidth": 1.3, "opacity": 0.85},
       "encoding": {"y": {"field": "q3", "type": "quantitative", "title": "Gray-level intensity"}, "y2": {"field": "hi"}}},
      {"data": {"name": "sdBox"}, "mark": {"type": "bar", "filled": false, "strokeWidth": 1.3, "opacity": 0.85},
       "encoding": {"y": {"field": "q1", "type": "quantitative", "title": "Gray-level intensity"}, "y2": {"field": "q3"}}},
      {"data": {"name": "sdBox"}, "mark": {"type": "tick", "thickness": 2.2, "size": 64.7, "opacity": 1},
       "encoding": {"y": {"field": "med", "type": "quantitative", "title": "Gray-level intensity"}}},
      {"data": {"name": "sd"}, "mark": {"type": "circle", "size": 22, "opacity": 1},
       "encoding": {"y": {"field": "value", "type": "quantitative", "title": "Gray-level intensity"}, "xOffset": {"field": "jitter", "type": "quantitative", "scale": {"domain": [-0.375, 0.375]}}}}
     ]
    }
   ]
  },
  {
   "title": "Signal-to-Noise Ratio",
   "width": 476, "height": 605,
   "resolve": {"scale": {"xOffset": "independent"}},
   "encoding": {
    "x": {"field": "scanner", "type": "nominal", "title": "MR scanner", "scale": {"domain": ["1.5T Avanto", "1.5T Gyroscan", "1.5T Signa", "3T MR750", "3T Verio"], "paddingInner": 0.25, "paddingOuter": 0.225}},
    "color": {"field": "scanner", "type": "nominal", "title": "MR model name", "scale": {"domain": ["1.5T Avanto", "1.5T Gyroscan", "1.5T Signa", "3T MR750", "3T Verio"], "range": ["#F8766D", "#A3A500", "#00BF7D", "#00B0F6", "#E76BF3"]}}
   },
   "layer": [
    {"data": {"name": "snrBox"}, "mark": {"type": "rule", "strokeWidth": 1.3, "opacity": 0.85},
     "encoding": {"y": {"field": "lo", "type": "quantitative", "title": "SNR", "scale": {"domain": [9.72, 40.1], "nice": false, "zero": false}, "axis": {"values": [10, 20, 30, 40]}}, "y2": {"field": "q1"}}},
    {"data": {"name": "snrBox"}, "mark": {"type": "rule", "strokeWidth": 1.3, "opacity": 0.85},
     "encoding": {"y": {"field": "q3", "type": "quantitative", "title": "SNR"}, "y2": {"field": "hi"}}},
    {"data": {"name": "snrBox"}, "mark": {"type": "bar", "filled": false, "strokeWidth": 1.3, "opacity": 0.85},
     "encoding": {"y": {"field": "q1", "type": "quantitative", "title": "SNR"}, "y2": {"field": "q3"}}},
    {"data": {"name": "snrBox"}, "mark": {"type": "tick", "thickness": 2.2, "size": 68.6, "opacity": 1},
     "encoding": {"y": {"field": "med", "type": "quantitative", "title": "SNR"}}},
    {"data": {"name": "snr"}, "mark": {"type": "circle", "size": 22, "opacity": 1},
     "encoding": {"y": {"field": "value", "type": "quantitative", "title": "SNR"}, "xOffset": {"field": "jitter", "type": "quantitative", "scale": {"domain": [-0.375, 0.375]}}}}
   ]
  }
 ]
}
